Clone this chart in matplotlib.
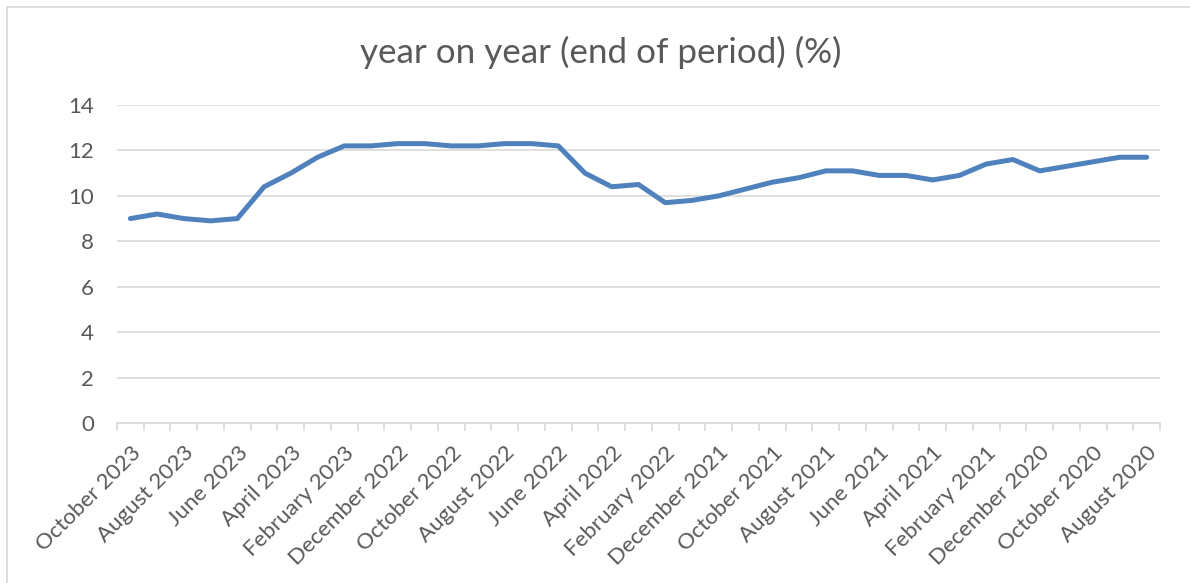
import numpy as np
import matplotlib.pyplot as plt
from matplotlib.patches import Rectangle

plt.rcParams['font.family'] = ['Lato', 'DejaVu Sans']

# monthly values, newest first (October 2023 back to August 2020)
months = [
    'October 2023', 'September 2023', 'August 2023', 'July 2023', 'June 2023',
    'May 2023', 'April 2023', 'March 2023', 'February 2023', 'January 2023',
    'December 2022', 'November 2022', 'October 2022', 'September 2022',
    'August 2022', 'July 2022', 'June 2022', 'May 2022', 'April 2022',
    'March 2022', 'February 2022', 'January 2022', 'December 2021',
    'November 2021', 'October 2021', 'September 2021', 'August 2021',
    'July 2021', 'June 2021', 'May 2021', 'April 2021', 'March 2021',
    'February 2021', 'January 2021', 'December 2020', 'November 2020',
    'October 2020', 'September 2020', 'August 2020',
]
yoy = [
    9.0, 9.2, 9.0, 8.9, 9.0, 10.4, 11.0, 11.7, 12.2, 12.2,
    12.3, 12.3, 12.2, 12.2, 12.3, 12.3, 12.2, 11.0, 10.4, 10.5,
    9.7, 9.8, 10.0, 10.3, 10.6, 10.8, 11.1, 11.1, 10.9, 10.9,
    10.7, 10.9, 11.4, 11.6, 11.1, 11.3, 11.5, 11.7, 11.7,
]
y_ticks = [0, 2, 4, 6, 8, 10, 12, 14]

text_col = '#595959'
grid_col = '#d9d9d9'
line_col = '#4f81bd'

fig = plt.figure(figsize=(11.9, 5.83), dpi=100)
# chart area border
fig.patches.append(Rectangle((7 / 1190, -0.1), 1.2, (583 - 7) / 583 + 0.1,
                             transform=fig.transFigure, fill=False,
                             edgecolor=grid_col, linewidth=1.2))

ax = fig.add_axes([117 / 1190, 1 - 423 / 583, (1160 - 117) / 1190, (423 - 105) / 583])
x = np.arange(len(months))
ax.plot(x, yoy, color=line_col, linewidth=3.6, solid_capstyle='round', solid_joinstyle='round')

ax.set_xlim(-0.5, len(months) - 0.5)
ax.set_ylim(0, 14)
ax.set_yticks(y_ticks)
ax.yaxis.grid(True, color=grid_col, linewidth=1.2)
ax.set_axisbelow(True)
for s in ['top', 'right', 'left']:
    ax.spines[s].set_visible(False)
ax.spines['bottom'].set_color(grid_col)
ax.spines['bottom'].set_linewidth(1.2)

ax.tick_params(axis='y', length=0, pad=16.5, labelsize=16, labelcolor=text_col)
ax.set_xticks(x[::2])
ax.set_xticklabels(months[::2], rotation=45, ha='right', rotation_mode='anchor',
                   fontsize=16, color=text_col)
ax.tick_params(axis='x', which='major', length=0, pad=14)
ax.set_xticks(np.arange(len(months) + 1) - 0.5, minor=True)
ax.tick_params(axis='x', which='minor', length=6, color=grid_col, width=1.2)

fig.text(0.505, 1 - 52 / 583, 'year on year (end of period) (%)', ha='center', va='center',
         fontsize=25.2, color=text_col)

fig.savefig('out.png', dpi=100)
